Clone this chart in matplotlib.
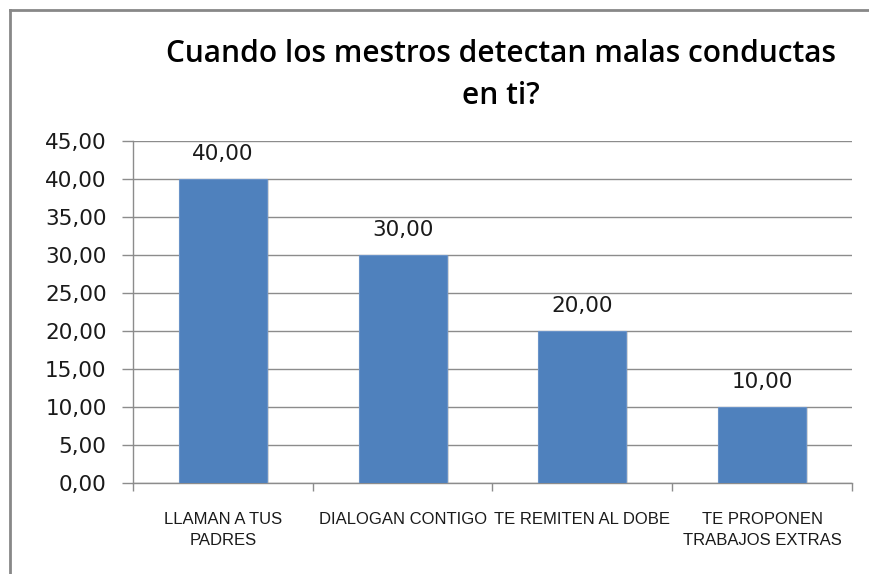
import matplotlib.pyplot as plt
import matplotlib.patheffects as pe
from matplotlib.lines import Line2D
import numpy as np

categorias = ['LLAMAN A TUS\nPADRES', 'DIALOGAN CONTIGO', 'TE REMITEN AL DOBE',
              'TE PROPONEN\nTRABAJOS EXTRAS']
valores = [40.0, 30.0, 20.0, 10.0]
y_ticks = [0, 5, 10, 15, 20, 25, 30, 35, 40, 45]
titulo = 'Cuando los mestros detectan malas conductas\nen ti?'


def coma(v):
    return f'{v:.2f}'.replace('.', ',')


def main():
    plt.rcParams['font.family'] = ['DejaVu Sans']
    fig = plt.figure(figsize=(8.69, 5.74), dpi=100)
    ax = fig.add_axes([0.153, 0.1585, 0.8274, 0.5959])

    x = np.arange(len(valores))
    barras = ax.bar(x, valores, width=0.49, color='#4F81BD', edgecolor='#6A93C8',
                    linewidth=0.8, zorder=3)
    for b in barras:
        b.set_path_effects([pe.SimplePatchShadow(offset=(1.5, -1), shadow_rgbFace='#999999',
                                                 alpha=0.35), pe.Normal()])

    for xi, v in zip(x, valores):
        ax.annotate(coma(v), (xi, v), xytext=(0, 11), textcoords='offset points',
                    ha='center', va='bottom', fontsize=15.5, color='#1a1a1a')

    ax.set_xlim(-0.5, len(valores) - 0.5)
    ax.set_ylim(0, 45)
    ax.set_yticks(y_ticks)
    ax.set_yticklabels([coma(v) for v in y_ticks], fontsize=15.5, color='#1a1a1a')
    ax.yaxis.grid(True, color='#8c8c8c', linewidth=1, zorder=0)
    ax.set_axisbelow(True)

    ax.set_xticks(x)
    ax.set_xticklabels(categorias, fontsize=12, family=['Liberation Sans Narrow', 'Liberation Sans'],
                       linespacing=1.45, va='top', color='#1a1a1a')
    ax.tick_params(axis='x', length=0, pad=21)
    # ticks de separación entre categorías
    ax.set_xticks(np.arange(len(valores) + 1) - 0.5, minor=True)
    ax.tick_params(axis='x', which='minor', length=6, color='#8c8c8c', width=1)
    ax.tick_params(axis='y', length=8, color='#8c8c8c', width=1, pad=11)

    for s in ['top', 'right']:
        ax.spines[s].set_visible(False)
    for s in ['left', 'bottom']:
        ax.spines[s].set_color('#8c8c8c')
        ax.spines[s].set_linewidth(1)

    fig.text(0.576, 1 - 75 / 574, titulo, ha='center', va='center', fontsize=21.5,
             fontweight='semibold', family=['Open Sans', 'DejaVu Sans'], linespacing=1.5)

    # marco del gráfico
    fig.add_artist(Line2D([9.5 / 869, 9.5 / 869], [0, 1 - 9.5 / 574], color='#888888',
                          linewidth=2, transform=fig.transFigure))
    fig.add_artist(Line2D([9.5 / 869, 1], [1 - 9.5 / 574, 1 - 9.5 / 574], color='#888888',
                          linewidth=2, transform=fig.transFigure))

    fig.savefig('out.png', dpi=100)


if __name__ == '__main__':
    main()
